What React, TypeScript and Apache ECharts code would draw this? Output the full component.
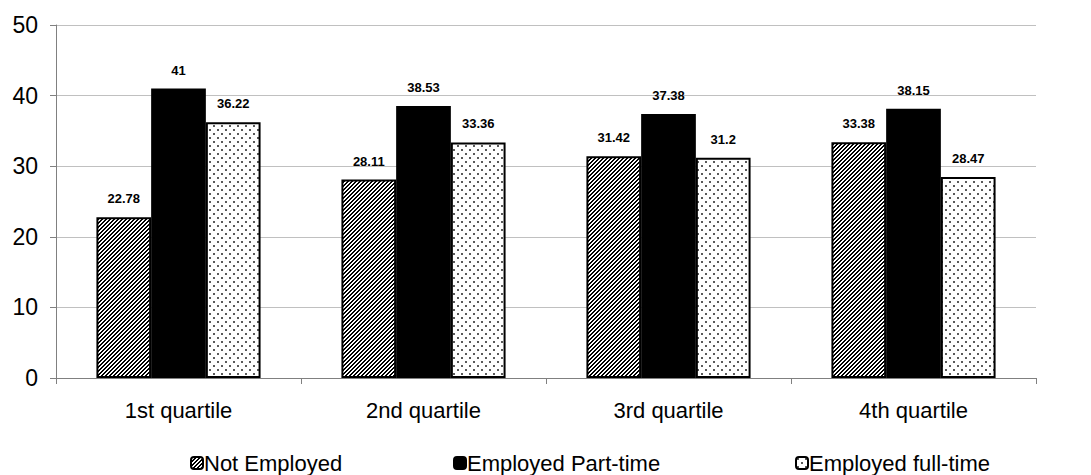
import React, { useEffect, useRef } from "react";
import * as echarts from "echarts";

const categories = ["1st quartile", "2nd quartile", "3rd quartile", "4th quartile"];
const notEmployed = [22.78, 28.11, 31.42, 33.38];
const partTime = [41, 38.53, 37.38, 38.15];
const fullTime = [36.22, 33.36, 31.2, 28.47];
const seriesNames = ["Not Employed", "Employed Part-time", "Employed full-time"];
const yTicks = [0, 10, 20, 30, 40, 50];

const FONT = "'Liberation Sans', Arial, sans-serif";

function makeTile(size: number, draw: (ctx: CanvasRenderingContext2D) => void): string {
  const c = document.createElement("canvas");
  c.width = size;
  c.height = size;
  const ctx = c.getContext("2d")!;
  ctx.fillStyle = "#ffffff";
  ctx.fillRect(0, 0, size, size);
  draw(ctx);
  return c.toDataURL();
}

// diagonal "/" hatch
function hatchTile(): string {
  return makeTile(4, (ctx) => {
    ctx.fillStyle = "#000000";
    for (let x = 0; x < 4; x++) {
      for (let y = 0; y < 4; y++) {
        const s = (x + y) % 4;
        if (s === 0 || s === 1) ctx.fillRect(x, y, 1, 1);
      }
    }
  });
}

// staggered grey dots
function dotTile(): string {
  return makeTile(8, (ctx) => {
    ctx.fillStyle = "#5a5a5a";
    ctx.fillRect(1, 1, 2, 2);
    ctx.fillRect(5, 5, 2, 2);
  });
}

export default function App() {
  const ref = useRef<HTMLDivElement>(null);

  useEffect(() => {
    if (!ref.current) return;
    const chart = echarts.init(ref.current, undefined, { renderer: "svg" });

    const hatch = { image: hatchTile(), repeat: "repeat" } as any;
    const dots = { image: dotTile(), repeat: "repeat" } as any;

    const label = {
      show: true,
      position: "top" as const,
      distance: 12,
      fontFamily: FONT,
      fontSize: 13,
      fontWeight: "bold" as const,
      color: "#000",
    };

    const legendBase = {
      top: 447,
      itemWidth: 12,
      itemHeight: 12,
      itemGap: 0,
      textStyle: { fontFamily: FONT, fontSize: 22, color: "#000", padding: [0, 0, 0, -4] },
    };

    chart.setOption({
      animation: false,
      backgroundColor: "#ffffff",
      grid: { left: 56, right: 55, top: 25, bottom: 97 },
      legend: [
        { ...legendBase, left: 185, data: [seriesNames[0]] },
        { ...legendBase, left: 448, data: [seriesNames[1]] },
        { ...legendBase, left: 790, data: [seriesNames[2]] },
      ],
      xAxis: {
        type: "category",
        data: categories,
        axisLine: { lineStyle: { color: "#808080", width: 1 } },
        axisTick: { show: true, length: 6, lineStyle: { color: "#808080" } },
        axisLabel: { fontFamily: FONT, fontSize: 22, color: "#000", margin: 21 },
      },
      yAxis: {
        type: "value",
        min: yTicks[0],
        max: yTicks[yTicks.length - 1],
        interval: 10,
        axisLine: { show: true, lineStyle: { color: "#808080", width: 1 } },
        axisTick: { show: true, length: 6, lineStyle: { color: "#808080" } },
        axisLabel: { fontFamily: FONT, fontSize: 23, color: "#000", margin: 18 },
        splitLine: { lineStyle: { color: "#c0c0c0", width: 1 } },
      },
      series: [
        {
          name: seriesNames[0],
          type: "bar",
          data: notEmployed,
          barGap: "0%",
          barCategoryGap: "33%",
          itemStyle: { color: hatch, borderColor: "#000", borderWidth: 2 },
          label,
        },
        {
          name: seriesNames[1],
          type: "bar",
          data: partTime,
          itemStyle: { color: "#000", borderColor: "#000", borderWidth: 2 },
          label,
        },
        {
          name: seriesNames[2],
          type: "bar",
          data: fullTime,
          itemStyle: { color: dots, borderColor: "#000", borderWidth: 2 },
          label,
        },
      ],
    });

    return () => chart.dispose();
  }, []);

  return (
    <div
      ref={ref}
      style={{ position: "fixed", left: 0, top: 0, width: 1091, height: 475, background: "#fff" }}
    />
  );
}
